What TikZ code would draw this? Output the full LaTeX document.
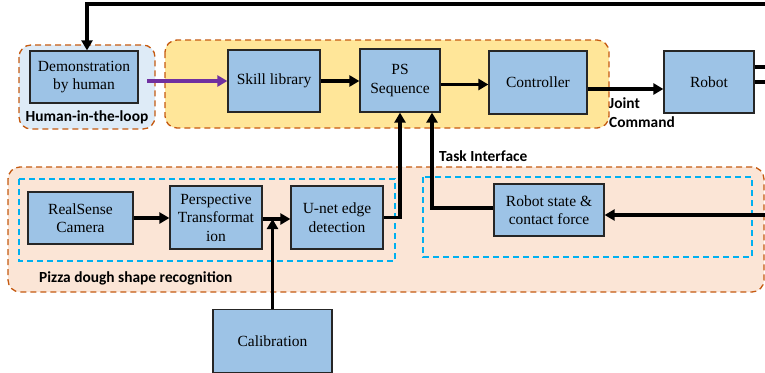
\documentclass[tikz,border=0pt]{standalone}
\usepackage{fontspec}
\setmainfont{Liberation Serif}
\newfontfamily\labfont{Carlito}
\usetikzlibrary{arrows.meta}
\definecolor{boxblue}{HTML}{9DC3E6}
\definecolor{grpblue}{HTML}{DEEBF7}
\definecolor{grpyellow}{HTML}{FFE699}
\definecolor{grppeach}{HTML}{FBE5D6}
\definecolor{grpedge}{HTML}{C55A11}
\definecolor{subedge}{HTML}{00B0F0}
\definecolor{demoarrow}{HTML}{7030A0}
\tikzset{
  blk/.style={draw=black!85, line width=1.3pt, fill=boxblue, align=center,
    font=\fontsize{15.5}{18.5}\selectfont, inner sep=2pt},
  grp/.style={draw=grpedge, line width=1.3pt, dash pattern=on 6pt off 4pt, rounded corners=12pt},
  subgrp/.style={draw=subedge, line width=1.1pt, dash pattern=on 6pt off 4pt},
  flow/.style={line width=3.5pt, -{Triangle[length=10pt,width=11pt]}},
  wire/.style={line width=3.5pt},
  lab/.style={font=\labfont\bfseries\fontsize{15.4}{19}\selectfont, inner sep=0pt}
}
\begin{document}
\begin{tikzpicture}[x=1pt,y=-1pt]
\useasboundingbox (0,0) rectangle (765,372);

% grouping panels
\draw[grp, fill=grppeach] (8,167) rectangle (764,292);
\draw[grp, fill=grpblue] (19,45) rectangle (155,129);
\draw[grp, fill=grpyellow] (165,40) rectangle (609,128);
\draw[subgrp] (19,179) rectangle (395,261);
\draw[subgrp] (423,177) rectangle (752,257);

% blocks
\node[blk, minimum width=108pt, minimum height=52pt] (demo) at (84,77) {Demonstration\\by human};
\node[blk, minimum width=92pt, minimum height=62pt] (skill) at (274,81) {Skill library};
\node[blk, minimum width=80pt, minimum height=63pt] (ps) at (400,80.5) {PS\\Sequence};
\node[blk, minimum width=98pt, minimum height=63pt] (ctrl) at (538,82.5) {Controller};
\node[blk, minimum width=90pt, minimum height=62pt] (robot) at (709,82) {Robot};
\node[blk, minimum width=105pt, minimum height=52pt] (rs) at (80.5,218) {RealSense\\Camera};
\node[blk, minimum width=92pt, minimum height=63pt] (persp) at (216,217.5) {Perspective\\Transformat\\ion};
\node[blk, minimum width=92pt, minimum height=63pt] (unet) at (337,217.5) {U-net edge\\detection};
\node[blk, minimum width=119pt, minimum height=63pt] (calib) at (272.5,341) {Calibration};
\node[blk, minimum width=110pt, minimum height=52pt] (rstate) at (549,210) {Robot state \&\\contact force};

% labels
\node[lab] (hl) at (87,117) {Human-in-the-loop};
\node[lab, anchor=west, align=left] (jc) at (609,112.5) {Joint\\Command};
\node[lab, anchor=west] (ti) at (439,156) {Task Interface};
\node[lab, anchor=west] (pz) at (39,278) {Pizza dough shape recognition};

% free ends at the right border
\coordinate (topR) at (766,4);
\coordinate (outA) at (766,67);
\coordinate (outB) at (766,82);
\coordinate (inR) at (766,215);
\coordinate (demoOut) at (147,81);
\coordinate (join) at (273,219);

% connectors
\draw[flow] (topR) -| ([xshift=3pt]demo.north);
\draw[wire] (robot.east |- outA) -- (outA);
\draw[wire] (robot.east |- outB) -- (outB);
\draw[line width=3.5pt, demoarrow, -{Triangle[length=10pt,width=11pt]}] (demoOut) -- (demoOut -| skill.west);
\draw[flow] (skill.east) -- (skill.east -| ps.west);
\draw[flow] ([yshift=-4pt]ps.east) -- ([yshift=-2pt]ctrl.west);
\draw[flow] ([yshift=-6.5pt]ctrl.east) -- ([yshift=-7pt]robot.west);
\draw[flow] (rs.east) -- (rs.east -| persp.west);
\draw[flow] ([yshift=-1.5pt]persp.east) -- ([yshift=-1.5pt]unet.west);
\draw[flow] (calib.north) -- (calib.north |- join);
\draw[flow] (unet.east) -| (ps.south);
\draw[flow] ([yshift=2pt]rstate.west) -| ([xshift=32pt]ps.south);
\draw[flow] (inR) -- (inR -| rstate.east);
\end{tikzpicture}
\end{document}
